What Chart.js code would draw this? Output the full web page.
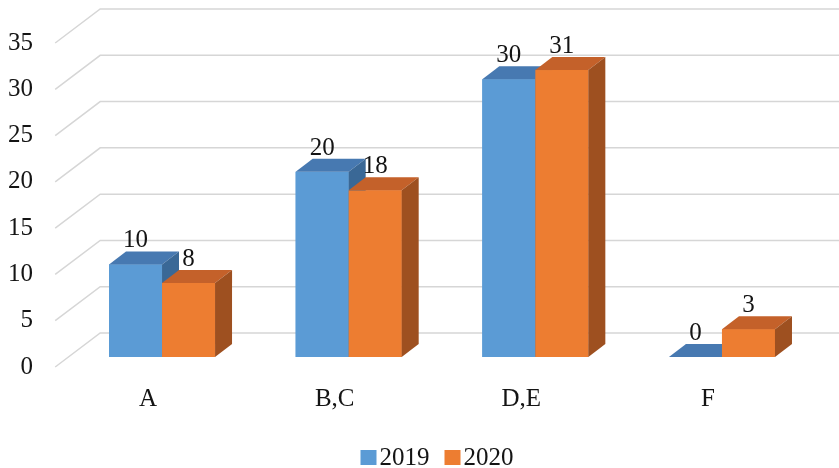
<!DOCTYPE html>
<html>
<head>
<meta charset="utf-8">
<script src="https://cdn.jsdelivr.net/npm/chart.js@4.4.1/dist/chart.umd.min.js"></script>
<style>
  html, body { margin: 0; padding: 0; background: #fff; }
  #chart { display: block; }
</style>
</head>
<body>
<canvas id="chart" width="839" height="468"></canvas>
<script>
const categories = ['A', 'B,C', 'D,E', 'F'];
const series2019 = [10, 20, 30, 0];
const series2020 = [8, 18, 31, 3];
const seriesNames = ['2019', '2020'];
const yTicks = [0, 5, 10, 15, 20, 25, 30, 35];

const FONT = '"Liberation Serif", "Times New Roman", serif';
const TEXT = '#141414';
const GRID = '#d6d6d6';

// colours for the front, top and side of each box
const shades = [
    { front: '#5b9bd5', top: '#4779b1', side: '#3a6896' },
    { front: '#ed7d31', top: '#c4612a', side: '#9e5020' }
];

// fake 3d offsets (px): box depth, back wall and front edge of the floor
const DEPTH = { dx: 17, dy: -13 };
const WALL = { dx: 31.5, dy: -24 };
const EDGE = { dx: -13.5, dy: 10 };

const boxes3d = {
    id: 'boxes3d',
    beforeDatasetsDraw(chart) {
        const { ctx, chartArea, scales: { y } } = chart;
        const left = chartArea.left;
        ctx.save();
        ctx.strokeStyle = GRID;
        ctx.lineWidth = 1.5;
        yTicks.forEach(v => {
            const py = y.getPixelForValue(v);
            ctx.beginPath();
            ctx.moveTo(left + EDGE.dx, py + EDGE.dy);
            ctx.lineTo(left + WALL.dx, py + WALL.dy);
            ctx.lineTo(chart.width, py + WALL.dy);
            ctx.stroke();
        });
        ctx.restore();
    },
    afterDatasetsDraw(chart) {
        const ctx = chart.ctx;
        const metas = [chart.getDatasetMeta(0), chart.getDatasetMeta(1)];
        ctx.save();
        // draw left to right so the orange box hides the blue side face
        categories.forEach((cat, i) => {
            metas.forEach((meta, d) => {
                const { x, y, base, width } = meta.data[i].getProps(['x', 'y', 'base', 'width'], true);
                const x0 = x - width / 2, x1 = x + width / 2;
                const col = shades[d];

                ctx.fillStyle = col.front;
                ctx.fillRect(x0, y, width, base - y);

                ctx.fillStyle = col.top;
                ctx.beginPath();
                ctx.moveTo(x0, y);
                ctx.lineTo(x1, y);
                ctx.lineTo(x1 + DEPTH.dx, y + DEPTH.dy);
                ctx.lineTo(x0 + DEPTH.dx, y + DEPTH.dy);
                ctx.closePath();
                ctx.fill();

                if (base - y > 0) {
                    ctx.fillStyle = col.side;
                    ctx.beginPath();
                    ctx.moveTo(x1, y);
                    ctx.lineTo(x1 + DEPTH.dx, y + DEPTH.dy);
                    ctx.lineTo(x1 + DEPTH.dx, base + DEPTH.dy);
                    ctx.lineTo(x1, base);
                    ctx.closePath();
                    ctx.fill();
                }
            });
        });

        // value labels above each box
        ctx.font = '25px ' + FONT;
        ctx.fillStyle = TEXT;
        ctx.textAlign = 'center';
        ctx.textBaseline = 'alphabetic';
        metas.forEach((meta, d) => {
            const values = chart.data.datasets[d].data;
            meta.data.forEach((bar, i) => {
                const { x, y } = bar.getProps(['x', 'y'], true);
                ctx.fillText(String(values[i]), x, y - 17);
            });
        });
        ctx.restore();
    },
    afterDraw(chart) {
        // legend under the axis labels
        const { ctx, chartArea } = chart;
        ctx.save();
        ctx.font = '25px ' + FONT;
        ctx.textBaseline = 'alphabetic';
        ctx.textAlign = 'left';
        const box = 16, gap = 3, itemGap = 15;
        const widths = chart.data.datasets.map(ds => ctx.measureText(ds.label).width);
        const total = widths.reduce((s, w) => s + box + gap + w, 0) + itemGap * (widths.length - 1);
        let x = (chartArea.left + chartArea.right) / 2 - 5 - total / 2;
        const baseY = 465;
        chart.data.datasets.forEach((ds, d) => {
            ctx.fillStyle = shades[d].front;
            ctx.fillRect(x, baseY - 15, box, 15);
            x += box + gap;
            ctx.fillStyle = TEXT;
            ctx.fillText(ds.label, x, baseY);
            x += widths[d] + itemGap;
        });
        ctx.restore();
    }
};

const ctx = document.getElementById('chart').getContext('2d');
const chart = new Chart(ctx, {
    type: 'bar',
    data: {
        labels: categories,
        datasets: [
            { label: seriesNames[0], data: series2019, backgroundColor: shades[0].front },
            { label: seriesNames[1], data: series2020, backgroundColor: shades[1].front }
        ]
    },
    options: {
        responsive: false,
        animation: false,
        layout: {
            autoPadding: false,
            padding: { left: 0, right: 23.7, top: 33, bottom: 51 }
        },
        datasets: {
            bar: { barPercentage: 1, categoryPercentage: 0.568 }
        },
        plugins: {
            legend: { display: false },
            tooltip: { enabled: false }
        },
        scales: {
            x: {
                grid: { display: false, drawTicks: false },
                border: { display: false },
                ticks: {
                    font: { family: FONT, size: 25 },
                    color: TEXT,
                    padding: 27,
                    labelOffset: -14
                },
                afterFit(scale) { scale.height = 60; }
            },
            y: {
                min: 0,
                max: 35,
                grid: { display: false, drawTicks: false },
                border: { display: false },
                ticks: {
                    stepSize: 5,
                    font: { family: FONT, size: 25 },
                    color: TEXT,
                    padding: 35.7,
                    labelOffset: 10
                },
                afterFit(scale) {
                    // fixed axis width; the tick padding should not push the plot down
                    scale.width = 68.7;
                    scale.paddingTop = 0;
                    scale.paddingBottom = 0;
                }
            }
        }
    },
    plugins: [boxes3d]
});
</script>
</body>
</html>
